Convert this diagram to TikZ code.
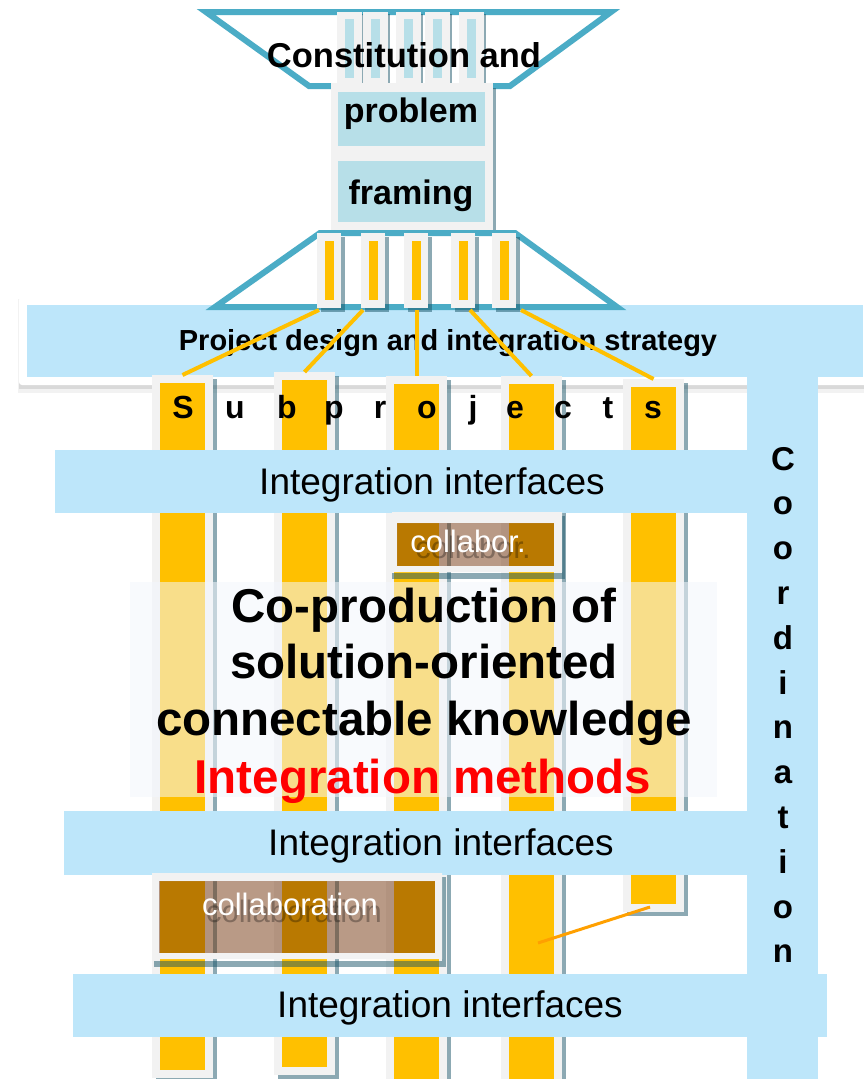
\documentclass[tikz,border=0pt]{standalone}
\usepackage{fontspec}
\setmainfont{Liberation Sans}
\definecolor{cTeal}{HTML}{4BACC6}
\definecolor{cBand}{HTML}{BDE6FA}
\definecolor{cBox}{HTML}{B7DFE8}
\definecolor{cGray}{HTML}{F2F2F2}
\definecolor{cYel}{HTML}{FFC000}
\definecolor{cShadow}{HTML}{1A5568}
\definecolor{cBrown}{HTML}{6D2D03}
\definecolor{cVeil}{HTML}{F3F7FD}
\definecolor{cOrange}{HTML}{FFA000}
\newcommand\setfs[1]{\fontsize{#1pt}{#1pt}\selectfont}
\begin{document}
\begin{tikzpicture}[x=1pt,y=-1pt,
  blk/.style={inner sep=0pt, outer sep=0pt, anchor=north west, draw=none},
  shd/.style={fill=cShadow, opacity=0.5},
  fan/.style={cYel, line width=4pt},
  trap/.style={draw=cTeal, line width=6pt, fill=white, line join=miter, miter limit=10},
  bandtxt/.style={anchor=base, inner sep=0pt, font=\setfs{37}},
  boldtxt/.style={anchor=base, inner sep=0pt, font=\bfseries\setfs{#1}},
  collab/.style={anchor=base, inner sep=0pt, font=\setfs{31}}
]
\useasboundingbox (0,0) rectangle (863,1079);
\fill[white] (0,0) rectangle (863,1079);

% ---- project design band ----
\fill[black, opacity=0.05] (17.5,299) rectangle (875,393);
\fill[black, opacity=0.10] (18.5,300) rectangle (875,389);
\fill[white, rounded corners=3pt] (19,297) rectangle (880,385);
\fill[cBand] (27,305) rectangle (863,377);
% coordination bar
\fill[cBand] (747,372) rectangle (818,1079);
\node[boldtxt=29] (design) at (448,350) {Project design and integration strategy};

% ---- top trapezoid ----
\draw[trap] (206,12) -- (611,12) -- (510,86) -- (309,86) -- cycle;
\foreach \x [count=\i] in {337,363,396,425,459} {
  \fill[shd] (\x+2,14) rectangle (\x+27,85);
  \node[blk, fill=cGray, minimum width=25pt, minimum height=71pt] (tb\i) at (\x,12) {};
  \node[blk, fill=cBox, minimum width=9pt, minimum height=59pt] (tbi\i) at (\x+8,19) {};
}
\fill[shd] (493,88) rectangle (496,232);
\node[blk, fill=cGray, minimum width=162pt, minimum height=147pt] (centre) at (331,83) {};
\node[blk, fill=cBox, minimum width=147pt, minimum height=54pt] (probbox) at (338,92) {};
\node[blk, fill=cBox, minimum width=147pt, minimum height=61pt] (frambox) at (338,161) {};
\node[boldtxt=34] (problem) at (411,122) {problem};
\node[boldtxt=34] (framing) at (411,204) {framing};
\node[boldtxt=34.5] (constit) at (404,67) {Constitution and};

% ---- bottom trapezoid ----
\draw[trap] (320,233) -- (515,233) -- (617,307) -- (215,307) -- cycle;
\foreach \x [count=\i] in {317,361,404,451,492} {
  \fill[shd] (\x+4,237) rectangle (\x+28,312);
  \node[blk, fill=cGray, minimum width=24pt, minimum height=75pt] (bb\i) at (\x,233) {};
  \node[blk, fill=cYel, minimum width=9pt, minimum height=59pt] (bby\i) at (\x+7.5,241) {};
}

% ---- subproject columns ----
\foreach \i/\x/\t/\b in {1/160/375/1078, 2/282/372/1075, 3/394/376/1090, 4/509/376/1090, 5/631/379/912} {
  \pgfmathsetmacro\hh{\b-\t}
  \pgfmathsetmacro\hy{\b-\t-16}
  \fill[shd] (\x-4,\t+4) rectangle (\x+57,\b+4);
  \node[blk, fill=cGray, minimum width=61pt, minimum height=\hh pt] (c\i) at (\x-8,\t) {};
  \node[blk, fill=cYel, minimum width=45pt, minimum height=\hy pt] (y\i) at (\x,\t+8) {};
}

% fan connectors
\coordinate (f1) at (319,310);
\coordinate (f2) at (363,310);
\coordinate (f3) at (416.5,310);
\coordinate (f4) at (470,310);
\coordinate (f5) at (521,310);
\foreach \i in {1,...,5} \draw[fan] (f\i) -- (c\i.north);

% ---- interface bands ----
\fill[cBand] (55,450) rectangle (748,513);
\fill[cBand] (64,811) rectangle (748,875);
\fill[cBand] (73,974) rectangle (827,1037);
\node[bandtxt] (if1) at (432,494) {Integration interfaces};
\node[bandtxt] (if2) at (441,855) {Integration interfaces};
\node[bandtxt] (if3) at (450,1017) {Integration interfaces};

% Subprojects letters
\foreach \l/\x [count=\i] in {S/183,u/235,b/287,p/334,r/380,o/427,j/473,e/515,c/563,t/608,s/653}
  \node[boldtxt=32] (sp\i) at (\x,418) {\l};

% ---- collabor. box ----
\fill[shd] (392,573) rectangle (565,579);
\fill[shd] (562,516) rectangle (565,573);
\fill[cGray, even odd rule] (392,512) rectangle (562,572) (397,523) rectangle (554,566);
\fill[cBrown, opacity=0.48] (397,523) rectangle (554,566);
\node[collab, text=black, opacity=0.3] (cbs) at (473,558) {collabor.};
\node[collab, text=white] (cb) at (468,552) {collabor.};

% ---- collaboration box ----
\fill[shd] (154,961) rectangle (446,967);
\fill[shd] (442,877) rectangle (446,961);
\fill[cGray, even odd rule] (152,873) rectangle (442,959) (159,881) rectangle (435,953);
\fill[cBrown, opacity=0.48] (159,881) rectangle (435,953);
\node[collab, text=black, opacity=0.3] (cls) at (294,922) {collaboration};
\node[collab, text=white] (cl) at (290,915) {collaboration};

% ---- veil and central text ----
\fill[cVeil, opacity=0.55] (130,582) rectangle (717,797);
\node[boldtxt=47.5] (m1) at (424,622) {Co-production of};
\node[boldtxt=47.5] (m2) at (424,678) {solution-oriented};
\node[boldtxt=47.5] (m3) at (424,735) {connectable knowledge};
\node[boldtxt=47.5, text=red] (m4) at (423,793) {Integration methods};

% orange connector between columns 4 and 5
\coordinate (o1) at (538,943);
\coordinate (o2) at (650,907);
\draw[cOrange, line width=3pt] (o1) -- (o2);

% Coordination letters
\foreach \l [count=\i] in {C,o,o,r,d,i,n,a,t,i,o,n}
  \node[boldtxt=33] (co\i) at (783,{470+44.8*(\i-1)}) {\l};
\end{tikzpicture}
\end{document}
